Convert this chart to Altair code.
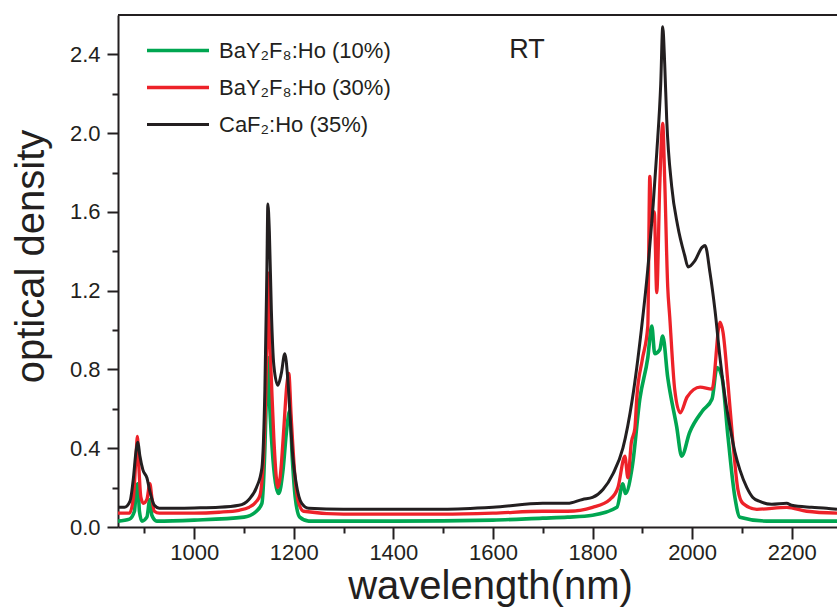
import altair as alt
import pandas as pd

# ---- data ----
series_names = ["BaY₂F₈:Ho (10%)", "BaY₂F₈:Ho (30%)", "CaF₂:Ho (35%)"]
series_colors = ["#00a651", "#ed2229", "#231f20"]
series_widths = [3.6, 3.0, 2.4]

green_wl = [847, 870, 880, 884, 887, 890, 895, 905, 911, 915, 925, 1000, 1100, 1125, 1136, 1142,
            1146, 1148, 1152, 1158, 1165, 1170, 1178, 1186, 1192, 1197, 1203, 1212, 1230, 1400,
            1600, 1700, 1750, 1800, 1849, 1861, 1866, 1880, 1895, 1911, 1919, 1925, 1935, 1941,
            1951, 1969, 1979, 1995, 2021, 2040, 2050, 2060, 2072, 2086, 2096, 2150, 2291]
green_od = [0.03, 0.04, 0.08, 0.20, 0.22, 0.08, 0.03, 0.05, 0.14, 0.06, 0.03, 0.035, 0.05, 0.08,
            0.12, 0.40, 0.75, 0.86, 0.60, 0.35, 0.20, 0.17, 0.28, 0.50, 0.59, 0.35, 0.15, 0.05,
            0.03, 0.03, 0.035, 0.045, 0.05, 0.06, 0.10, 0.22, 0.17, 0.31, 0.65, 0.86, 1.02, 0.88,
            0.90, 0.97, 0.76, 0.51, 0.36, 0.48, 0.59, 0.65, 0.81, 0.76, 0.46, 0.15, 0.05, 0.03,
            0.03]

red_wl = [847, 870, 878, 883, 886, 889, 893, 898, 905, 911, 915, 920, 930, 1000, 1050, 1090, 1110,
          1125, 1132, 1140, 1144, 1146, 1148, 1151, 1155, 1160, 1165, 1168, 1173, 1180, 1186, 1190,
          1195, 1202, 1210, 1220, 1300, 1400, 1500, 1600, 1700, 1750, 1800, 1835, 1851, 1865, 1871,
          1878, 1885, 1889, 1900, 1911, 1915, 1919, 1924, 1929, 1935, 1941, 1945, 1951, 1955, 1965,
          1976, 1990, 2016, 2040, 2056, 2062, 2072, 2082, 2092, 2102, 2130, 2190, 2230, 2291]
red_od = [0.07, 0.07, 0.15, 0.35, 0.46, 0.30, 0.15, 0.12, 0.14, 0.22, 0.15, 0.08, 0.07, 0.07, 0.075,
          0.085, 0.10, 0.13, 0.16, 0.40, 0.70, 0.95, 1.29, 1.00, 0.75, 0.45, 0.25, 0.20, 0.26, 0.50,
          0.72, 0.78, 0.55, 0.27, 0.12, 0.08, 0.065, 0.065, 0.065, 0.07, 0.08, 0.08, 0.10, 0.14,
          0.20, 0.36, 0.25, 0.43, 0.50, 0.66, 0.85, 1.02, 1.78, 1.55, 1.60, 1.19, 1.73, 2.05, 1.76,
          1.22, 1.07, 0.70, 0.58, 0.66, 0.71, 0.70, 1.04, 0.99, 0.73, 0.43, 0.19, 0.12, 0.09, 0.10,
          0.08, 0.07]

black_wl = [847, 860, 871, 878, 883, 887, 891, 897, 905, 912, 920, 930, 1000, 1050, 1090, 1110, 1125,
            1136, 1142, 1146, 1148, 1151, 1155, 1160, 1168, 1175, 1182, 1188, 1193, 1198, 1205, 1216,
            1230, 1300, 1400, 1500, 1600, 1700, 1750, 1780, 1800, 1821, 1841, 1861, 1880, 1898, 1911,
            1929, 1937, 1941, 1945, 1949, 1959, 1971, 1985, 1992, 2005, 2020, 2026, 2036, 2046, 2056,
            2066, 2076, 2086, 2096, 2110, 2122, 2136, 2160, 2190, 2200, 2240, 2270, 2291]
black_od = [0.10, 0.10, 0.13, 0.25, 0.38, 0.43, 0.36, 0.29, 0.25, 0.17, 0.11, 0.095, 0.097, 0.10,
            0.11, 0.14, 0.20, 0.30, 0.70, 1.30, 1.64, 1.50, 1.10, 0.82, 0.72, 0.78, 0.88, 0.75, 0.55,
            0.36, 0.22, 0.12, 0.095, 0.09, 0.09, 0.09, 0.10, 0.12, 0.12, 0.14, 0.15, 0.19, 0.27, 0.40,
            0.65, 1.00, 1.31, 1.90, 2.25, 2.54, 2.35, 2.07, 1.73, 1.53, 1.38, 1.32, 1.35, 1.42, 1.43,
            1.29, 1.10, 0.86, 0.66, 0.51, 0.38, 0.29, 0.20, 0.15, 0.13, 0.115, 0.12, 0.11, 0.10, 0.095,
            0.09]

x_ticks = list(range(900, 2300, 100))
y_ticks = [round(0.2 * i, 1) for i in range(13)]

rows = []
for name, wl, od in zip(series_names, [green_wl, red_wl, black_wl], [green_od, red_od, black_od]):
    for a, b in zip(wl, od):
        rows.append({"series": name, "wl": a, "od": b})
df = pd.DataFrame(rows)

FONT = "Liberation Sans"
INK = "#231f20"
W, H = 719, 512

x_axis = alt.Axis(
    values=x_ticks, format="d",
    labelExpr="datum.value % 200 == 0 ? datum.label : ''",
    tickSize={"condition": {"test": "datum.value % 200 == 0", "value": 12}, "value": 6},
    tickWidth=2, domainWidth=2, tickColor=INK, domainColor=INK,
    labelFont=FONT, labelFontSize=22, labelColor=INK, labelPadding=3,
    grid=False, title="wavelength(nm)", titleFont=FONT, titleFontSize=40,
    titleFontWeight="normal", titleColor=INK, titleX=372, titleY=71,
    titleBaseline="alphabetic", titleAlign="center", labelFlush=False,
)
y_axis = alt.Axis(
    values=y_ticks, format=".1f",
    labelExpr="round(datum.value * 10) % 4 == 0 ? datum.label : ''",
    tickSize={"condition": {"test": "round(datum.value * 10) % 4 == 0", "value": 11}, "value": 6},
    tickWidth=2, domainWidth=2, tickColor=INK, domainColor=INK,
    labelFont=FONT, labelFontSize=22, labelColor=INK, labelPadding=7,
    grid=False, title="optical density", titleFont=FONT, titleFontSize=40,
    titleFontWeight="normal", titleColor=INK, titleX=-75, titleY=241,
    titleBaseline="alphabetic", titleAlign="center", labelFlush=False,
)

lines = alt.Chart(df).mark_line(clip=True, interpolate="monotone").encode(
    x=alt.X("wl:Q", scale=alt.Scale(domain=[847, 2291], nice=False, zero=False), axis=x_axis),
    y=alt.Y("od:Q", scale=alt.Scale(domain=[0, 2.6], nice=False), axis=y_axis),
    color=alt.Color(
        "series:N",
        scale=alt.Scale(domain=series_names, range=series_colors),
        legend=alt.Legend(
            title=None, orient="none", legendX=27, legendY=17, padding=0,
            symbolType="stroke", symbolSize=3844, symbolStrokeWidth=2.5, clipHeight=37,
            rowPadding=0, labelFont=FONT, labelFontSize=22, labelColor=INK, labelOffset=8,
            labelLimit=500,
        ),
    ),
    strokeWidth=alt.StrokeWidth(
        "series:N", scale=alt.Scale(domain=series_names, range=series_widths), legend=None
    ),
    order=alt.Order("wl:Q"),
)

top_rule = alt.Chart(pd.DataFrame({"a": [0]})).mark_rule(color=INK, strokeWidth=2).encode(
    x=alt.value(0), x2=alt.value(W), y=alt.value(0)
)

rt_text = alt.Chart(pd.DataFrame({"t": ["RT"]})).mark_text(
    font=FONT, fontSize=27, color=INK, align="center", baseline="middle"
).encode(text="t:N", x=alt.value(409), y=alt.value(35))

chart = alt.layer(lines, top_rule, rt_text).properties(
    width=W, height=H,
    autosize=alt.AutoSizeParams(type="none"),
    padding={"left": 118, "top": 15, "right": 0, "bottom": 84},
).configure_view(stroke=None).configure(background="white")

chart.save("out.html", embed_options={"renderer": "svg", "actions": False})
